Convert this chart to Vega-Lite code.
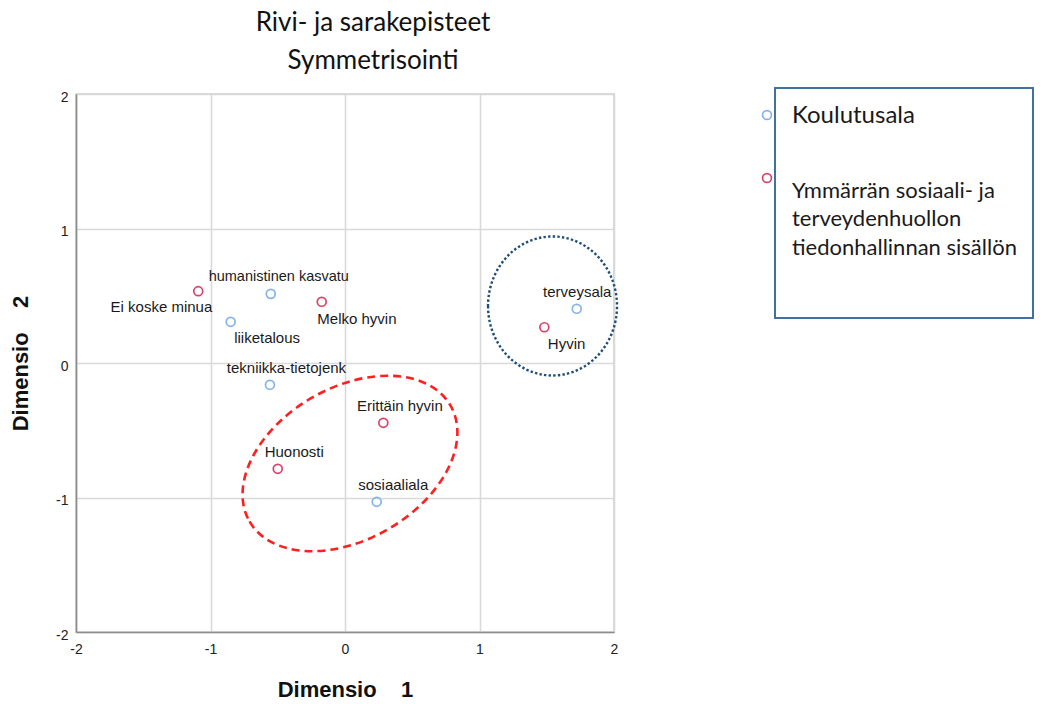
{
  "$schema": "https://vega.github.io/schema/vega-lite/v6.json",
  "width": 538,
  "height": 538,
  "autosize": {"type": "none"},
  "padding": {"left": 76, "top": 94, "right": 447, "bottom": 72},
  "background": "white",
  "title": {
    "text": ["Rivi- ja sarakepisteet", "Symmetrisointi"],
    "font": "Lato",
    "fontSize": 26,
    "fontWeight": "normal",
    "color": "#111111",
    "lineHeight": 38,
    "anchor": "middle",
    "frame": "group",
    "dx": 28,
    "offset": 13
  },
  "config": {
    "view": {"stroke": "#d9d9d9", "strokeWidth": 2},
    "axis": {
      "grid": true,
      "gridColor": "#d9d9d9",
      "gridWidth": 1.6,
      "domainColor": "#8c8c8c",
      "domainWidth": 1.6,
      "ticks": false,
      "labelFont": "Liberation Sans",
      "labelFontSize": 14,
      "labelColor": "#222222",
      "labelOverlap": false,
      "labelFlush": false,
      "labelExpr": "toString(datum.value)",
      "titleFont": "Liberation Sans",
      "titleFontSize": 22,
      "titleFontWeight": "bold",
      "titleColor": "#111111"
    }
  },
  "datasets": {
    "pisteet": [
      {"nimi": "humanistinen kasvatu", "ryhma": "Koulutusala", "x": -0.552, "y": 0.514},
      {"nimi": "liiketalous", "ryhma": "Koulutusala", "x": -0.85, "y": 0.306},
      {"nimi": "tekniikka-tietojenk", "ryhma": "Koulutusala", "x": -0.558, "y": -0.162},
      {"nimi": "sosiaaliala", "ryhma": "Koulutusala", "x": 0.236, "y": -1.032},
      {"nimi": "terveysala", "ryhma": "Koulutusala", "x": 1.723, "y": 0.403},
      {"nimi": "Ei koske minua", "ryhma": "Ymmärrän sosiaali- ja terveydenhuollon tiedonhallinnan sisällön", "x": -1.091, "y": 0.534},
      {"nimi": "Melko hyvin", "ryhma": "Ymmärrän sosiaali- ja terveydenhuollon tiedonhallinnan sisällön", "x": -0.173, "y": 0.455},
      {"nimi": "Erittäin hyvin", "ryhma": "Ymmärrän sosiaali- ja terveydenhuollon tiedonhallinnan sisällön", "x": 0.285, "y": -0.445},
      {"nimi": "Huonosti", "ryhma": "Ymmärrän sosiaali- ja terveydenhuollon tiedonhallinnan sisällön", "x": -0.5, "y": -0.787},
      {"nimi": "Hyvin", "ryhma": "Ymmärrän sosiaali- ja terveydenhuollon tiedonhallinnan sisällön", "x": 1.482, "y": 0.266}
    ],
    "alueet": [
      {"alue": "punainen", "x": 0.037, "y": -0.747},
      {"alue": "sininen", "x": 1.543, "y": 0.424}
    ]
  },
  "encoding": {
    "x": {
      "field": "x",
      "type": "quantitative",
      "scale": {"domain": [-2, 2], "nice": false, "zero": false},
      "axis": {"values": [-2, -1, 0, 1, 2], "labelPadding": 10, "titlePadding": 23, "title": "Dimensio\u00a0\u00a0\u00a0\u00a01"}
    },
    "y": {
      "field": "y",
      "type": "quantitative",
      "scale": {"domain": [-2, 2], "nice": false, "zero": false},
      "axis": {"values": [-2, -1, 0, 1, 2], "labelPadding": 8, "labelOffset": 3, "titlePadding": 23, "title": "Dimensio\u00a0\u00a0\u00a0\u00a02"}
    }
  },
  "layer": [
    {
      "data": {"name": "alueet"},
      "transform": [{"filter": "datum.alue == 'punainen'"}],
      "mark": {
        "type": "point",
        "shape": "M-1,0A1,0.655,0,1,0,1,0A1,0.655,0,1,0,-1,0Z",
        "size": 53824,
        "angle": 330,
        "filled": false,
        "stroke": "#ff1f1f",
        "strokeWidth": 2.6,
        "strokeDash": [8, 5],
        "opacity": 1
      }
    },
    {
      "data": {"name": "alueet"},
      "transform": [{"filter": "datum.alue == 'sininen'"}],
      "mark": {
        "type": "point",
        "shape": "M-0.928,0A0.928,1,0,1,0,0.928,0A0.928,1,0,1,0,-0.928,0Z",
        "size": 19321,
        "filled": false,
        "stroke": "#1f4e79",
        "strokeWidth": 2.4,
        "strokeDash": [2.4, 2.2],
        "opacity": 1
      }
    },
    {
      "data": {"name": "pisteet"},
      "mark": {"type": "point", "shape": "circle", "filled": false, "size": 80, "strokeWidth": 1.7, "opacity": 1},
      "encoding": {
        "color": {
          "field": "ryhma",
          "type": "nominal",
          "scale": {
            "domain": ["Koulutusala", "Ymmärrän sosiaali- ja terveydenhuollon tiedonhallinnan sisällön"],
            "range": ["#84b4ea", "#d8436a"]
          },
          "legend": {
            "orient": "none",
            "legendX": 699,
            "legendY": -6,
            "title": "\u00a0\u00a0\u00a0\u00a0\u00a0\u00a0\u00a0\u00a0\u00a0\u00a0\u00a0\u00a0\u00a0\u00a0\u00a0\u00a0\u00a0\u00a0\u00a0\u00a0\u00a0\u00a0\u00a0\u00a0\u00a0\u00a0\u00a0\u00a0\u00a0\u00a0\u00a0\u00a0\u00a0\u00a0\u00a0\u00a0\u00a0\u00a0\u00a0\u00a0\u00a0\u00a0\u00a0\u00a0\u00a0\u00a0\u00a0\u00a0\u00a0\u00a0\u00a0\u00a0\u00a0\u00a0\u00a0\u00a0\u00a0\u00a0\u00a0\u00a0",
            "titleOrient": "bottom",
            "titleAnchor": "start",
            "titleFont": "Liberation Sans",
            "titleFontSize": 20,
            "titlePadding": -5,
            "titleLimit": 2000,
            "padding": 16,
            "strokeColor": "#41719c",
            "symbolType": "circle",
            "symbolSize": 80,
            "symbolStrokeWidth": 1.7,
            "symbolOffset": -35,
            "labelFont": "Lato",
            "labelFontSize": 22,
            "labelColor": "#1a1a1a",
            "labelLimit": 900,
            "labelOffset": 14,
            "rowPadding": 39,
            "labelExpr": "datum.value == 'Koulutusala' ? datum.label : ['Ymmärrän sosiaali- ja', 'terveydenhuollon', 'tiedonhallinnan sisällön', '']",
            "encoding": {
              "legend": {"strokeWidth": {"value": 2}},
              "labels": {
                "fontSize": {"value": {"expr": "datum.value == 'Koulutusala' ? 24 : 22"}},
                "baseline": {"value": {"expr": "datum.value == 'Koulutusala' ? 'middle' : 'top'"}},
                "dy": {"value": {"expr": "datum.value == 'Koulutusala' ? 0.5 : 2.5"}},
                "lineHeight": {"value": 28.5}
              }
            }
          }
        }
      }
    },
    {
      "data": {"name": "pisteet"},
      "transform": [{"filter": {"field": "nimi", "oneOf": ["tekniikka-tietojenk", "Erittäin hyvin", "Huonosti", "sosiaaliala"]}}],
      "mark": {"type": "text", "align": "center", "baseline": "middle", "dx": 16.5, "dy": -16.5, "font": "Liberation Sans", "fontSize": 15, "color": "#1a1a1a"},
      "encoding": {"text": {"field": "nimi"}}
    },
    {
      "data": {"name": "pisteet"},
      "transform": [{"filter": {"field": "nimi", "oneOf": ["humanistinen kasvatu"]}}],
      "mark": {"type": "text", "align": "center", "baseline": "middle", "dx": 8, "dy": -16.5, "font": "Liberation Sans", "fontSize": 14.5, "color": "#1a1a1a"},
      "encoding": {"text": {"field": "nimi"}}
    },
    {
      "data": {"name": "pisteet"},
      "transform": [{"filter": {"field": "nimi", "oneOf": ["terveysala"]}}],
      "mark": {"type": "text", "align": "center", "baseline": "middle", "dx": 0.5, "dy": -16.5, "font": "Liberation Sans", "fontSize": 15, "color": "#1a1a1a"},
      "encoding": {"text": {"field": "nimi"}}
    },
    {
      "data": {"name": "pisteet"},
      "transform": [{"filter": {"field": "nimi", "oneOf": ["liiketalous", "Hyvin"]}}],
      "mark": {"type": "text", "align": "left", "baseline": "middle", "dx": 3.5, "dy": 16.5, "font": "Liberation Sans", "fontSize": 15, "color": "#1a1a1a"},
      "encoding": {"text": {"field": "nimi"}}
    },
    {
      "data": {"name": "pisteet"},
      "transform": [{"filter": {"field": "nimi", "oneOf": ["Melko hyvin"]}}],
      "mark": {"type": "text", "align": "left", "baseline": "middle", "dx": -4.4, "dy": 16.7, "font": "Liberation Sans", "fontSize": 15, "color": "#1a1a1a"},
      "encoding": {"text": {"field": "nimi"}}
    },
    {
      "data": {"name": "pisteet"},
      "transform": [{"filter": {"field": "nimi", "oneOf": ["Ei koske minua"]}}],
      "mark": {"type": "text", "align": "right", "baseline": "middle", "dx": 14, "dy": 16, "font": "Liberation Sans", "fontSize": 15, "color": "#1a1a1a"},
      "encoding": {"text": {"field": "nimi"}}
    }
  ]
}
